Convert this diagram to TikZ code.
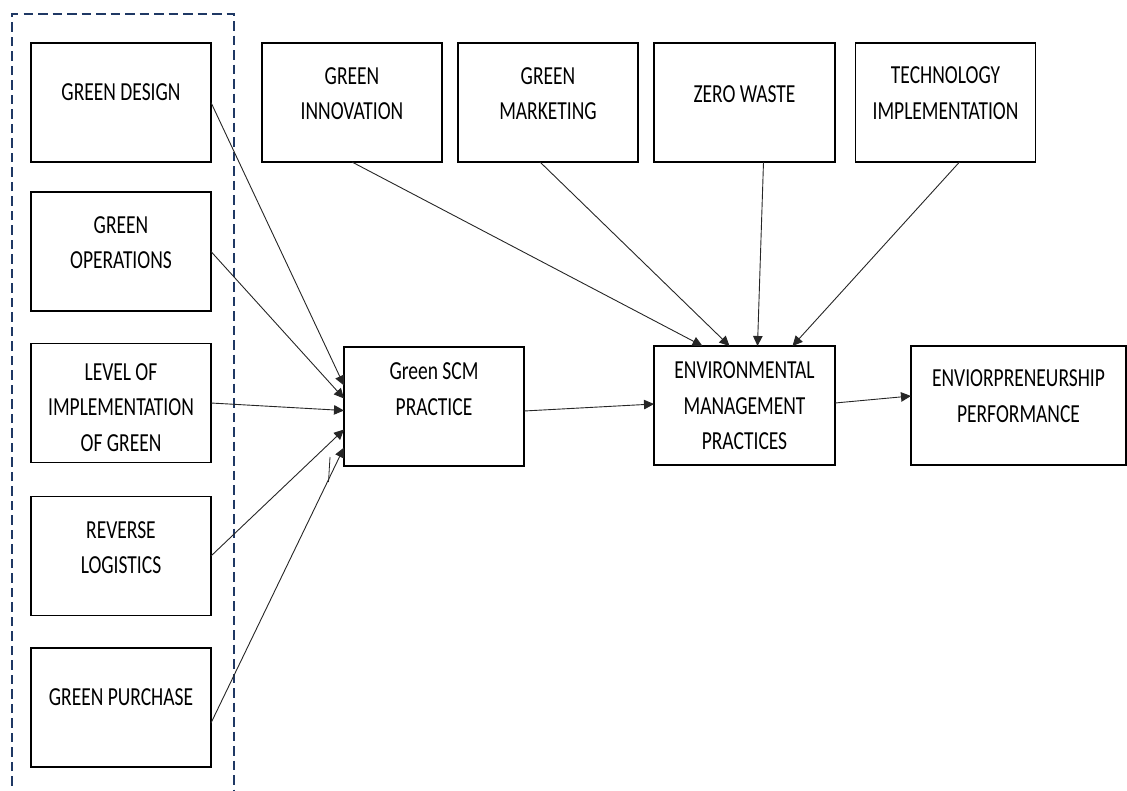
\documentclass[tikz,border=0pt]{standalone}
\usepackage{fontspec}
\setmainfont{Carlito}[FakeStretch=0.75]
\usetikzlibrary{arrows.meta,calc}
\definecolor{navy}{HTML}{1F3864}
\begin{document}
\begin{tikzpicture}[x=1pt,y=-1pt,
  box/.style={draw=black,line width=1.9pt,inner sep=0pt,outer sep=0pt,minimum width=180pt,minimum height=119pt},
  txt/.style={inner sep=0pt,align=center,font=\fontsize{26}{35.5}\selectfont},
  conn/.style={draw=black!85,line width=0.9pt,-{Triangle[length=10pt,width=9.5pt]}},
  group/.style={draw=navy,line width=2.2pt,dash pattern=on 9.5pt off 5pt}]
\useasboundingbox (0,0) rectangle (1127,790);
% left column
\node[box] (gd)  at (121,102.5) {};
\node[box] (go)  at (121,251.5) {};
\node[box] (lev) at (121,403) {};
\node[box] (rl)  at (121,556) {};
\node[box] (gp)  at (121,707.5) {};
% top row
\node[box] (gi) at (352,102.5) {};
\node[box] (gm) at (548,102.5) {};
\node[box,minimum width=181pt] (zw) at (744.5,102.5) {};
\node[box] (ti) at (945.5,102.5) {};
% middle row
\node[box] (scm) at (434,406.5) {};
\node[box,minimum width=181pt] (emp) at (744.5,405.5) {};
\node[box,minimum width=215pt] (ep) at (1018.5,405.5) {};
% texts
\node[txt] (tgd)  at ($(gd.center)+(0,-10)$) {GREEN DESIGN};
\node[txt] (tgo)  at ($(go.center)+(0,-9)$) {GREEN\\OPERATIONS};
\node[txt] (tlev) at ($(lev.center)+(0,4.5)$) {LEVEL OF\\IMPLEMENTATION\\OF GREEN};
\node[txt] (trl)  at ($(rl.center)+(0,-8.5)$) {REVERSE\\LOGISTICS};
\node[txt] (tgp)  at ($(gp.center)+(0,-10)$) {GREEN PURCHASE};
\node[txt] (tgi)  at ($(gi.center)+(0,-9)$) {GREEN\\INNOVATION};
\node[txt] (tgm)  at ($(gm.center)+(0,-9)$) {GREEN\\MARKETING};
\node[txt] (tzw)  at ($(zw.center)+(0,-8)$) {ZERO WASTE};
\node[txt] (tti)  at ($(ti.center)+(0,-9.5)$) {TECHNOLOGY\\IMPLEMENTATION};
\node[txt] (tscm) at ($(scm.center)+(0,-17.5)$) {Green SCM\\PRACTICE};
\node[txt] (temp) at ($(emp.center)+(0,0.5)$) {ENVIRONMENTAL\\MANAGEMENT\\PRACTICES};
\node[txt] (tep)  at ($(ep.center)+(0,-9.5)$) {ENVIORPRENEURSHIP\\PERFORMANCE};
% dashed group
\draw[group] (12,800) -- (12,14) -- (234,14) -- (234,800);
% connectors to Green SCM
\draw[conn] (gd.east) -- ($(scm.west)+(0,-21)$);
\draw[conn] (go.east) -- ($(scm.west)+(0,-8)$);
\draw[conn] (lev.east) -- ($(scm.west)+(0,4)$);
\draw[conn] (rl.east) -- ($(scm.west)+(0,23)$);
\draw[conn] ($(gp.east)+(0,15.5)$) -- ($(scm.west)+(0,41)$);
\draw[line width=0.8pt,black!85] (330,457) -- (328.5,482);
% connectors to EMP
\draw[conn] (gi.south) -- ($(emp.north)+(-42,0)$);
\draw[conn] ($(gm.south)+(-8,0)$) -- ($(emp.north)+(-15,0)$);
\draw[conn] ($(zw.south)+(19,0)$) -- ($(emp.north)+(13,0)$);
\draw[conn] ($(ti.south)+(14,0)$) -- ($(emp.north)+(48,0)$);
\draw[conn] ($(scm.east)+(0,4.5)$) -- ($(emp.west)+(0,-1.5)$);
\draw[conn] ($(emp.east)+(0,-2.5)$) -- ($(ep.west)+(0,-9.5)$);
\end{tikzpicture}
\end{document}
